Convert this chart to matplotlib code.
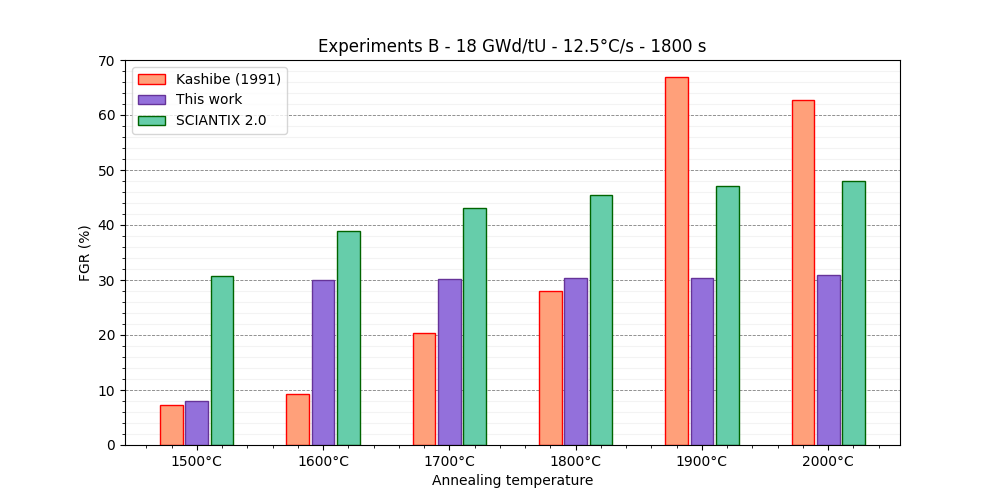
import numpy as np
import matplotlib
matplotlib.use("Agg")
import matplotlib.pyplot as plt
from matplotlib.ticker import AutoMinorLocator

temperatures = ["1500°C", "1600°C", "1700°C", "1800°C", "1900°C", "2000°C"]
kashibe = [7.3, 9.3, 20.4, 28.0, 66.9, 62.7]
this_work = [8.0, 30.0, 30.2, 30.4, 30.4, 30.9]
sciantix = [30.7, 38.9, 43.1, 45.5, 47.1, 48.0]

x = np.arange(len(temperatures))
width = 0.18

fig, ax = plt.subplots(figsize=(10, 5), dpi=100)

ax.bar(x - 0.2, kashibe, width, color="lightsalmon", edgecolor="red", label="Kashibe (1991)")
ax.bar(x, this_work, width, color="mediumpurple", edgecolor="rebeccapurple", label="This work")
ax.bar(x + 0.2, sciantix, width, color="mediumaquamarine", edgecolor="darkgreen", label="SCIANTIX 2.0")

ax.set_xticks(x)
ax.set_xticklabels(temperatures)
ax.xaxis.set_minor_locator(AutoMinorLocator(5))
ax.yaxis.set_minor_locator(AutoMinorLocator(5))
ax.set_ylim(0, 70)

# dashed major grid, very faint minor grid
ax.grid(axis="y", which="major", linestyle="--", color="gray", linewidth=0.6)
ax.grid(axis="y", which="minor", linestyle="-", color="lightgray", alpha=0.25)
ax.set_axisbelow(True)

ax.set_xlabel("Annealing temperature")
ax.set_ylabel("FGR (%)")
ax.set_title("Experiments B - 18 GWd/tU - 12.5°C/s - 1800 s")
ax.legend(loc="upper left")

plt.savefig("out.png")
